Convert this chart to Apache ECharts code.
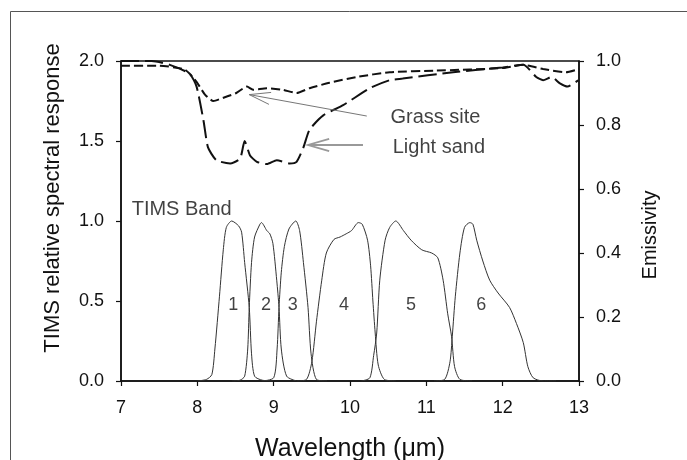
<!DOCTYPE html>
<html>
<head>
<meta charset="utf-8">
<script src="https://cdn.jsdelivr.net/npm/echarts@6/dist/echarts.min.js"></script>
<style>
  html, body { margin: 0; padding: 0; background: #fff; }
  #chart { width: 687px; height: 460px; }
</style>
</head>
<body>
<div id="chart"></div>
<script>
var FONT = 'Liberation Sans, Arial, Helvetica, sans-serif';
var INK = '#111';

// emissivity spectra (right axis)
var grassWave = [7.0, 7.5, 7.82, 7.9, 7.99, 8.1, 8.21, 8.34, 8.51, 8.65, 8.73, 8.91, 9.12, 9.3, 9.47, 9.73, 10.09, 10.52, 11.13, 12.0, 12.27, 12.53, 12.83, 13.0];
var grassEmis = [0.985, 0.985, 0.975, 0.96, 0.935, 0.895, 0.875, 0.885, 0.9, 0.92, 0.91, 0.915, 0.91, 0.9, 0.915, 0.932, 0.95, 0.965, 0.97, 0.978, 0.988, 0.975, 0.965, 0.975];

var sandWave = [7.0, 7.4, 7.64, 7.9, 7.99, 8.08, 8.14, 8.25, 8.43, 8.56, 8.62, 8.69, 8.78, 8.91, 9.04, 9.21, 9.3, 9.39, 9.47, 9.65, 9.91, 10.26, 10.52, 10.69, 11.35, 12.0, 12.27, 12.44, 12.53, 12.64, 12.75, 12.85, 12.99];
var sandEmis = [1.0, 1.0, 0.988, 0.96, 0.92, 0.815, 0.73, 0.69, 0.68, 0.695, 0.75, 0.705, 0.685, 0.678, 0.69, 0.68, 0.685, 0.73, 0.785, 0.83, 0.862, 0.915, 0.94, 0.945, 0.965, 0.98, 0.988, 0.95, 0.94, 0.95, 0.93, 0.92, 0.94];

// TIMS band responses (left axis)
var band1Wave = [8.0, 8.12, 8.19, 8.23, 8.29, 8.34, 8.38, 8.45, 8.54, 8.58, 8.62, 8.68, 8.71, 8.75, 8.85, 9.0];
var band1Resp = [0, 0.01, 0.04, 0.2, 0.53, 0.82, 0.96, 1.0, 0.97, 0.93, 0.74, 0.46, 0.17, 0.03, 0.005, 0];
var band2Wave = [8.45, 8.56, 8.62, 8.66, 8.68, 8.71, 8.75, 8.82, 8.84, 8.91, 8.95, 8.99, 9.04, 9.07, 9.1, 9.17, 9.3];
var band2Resp = [0, 0.005, 0.03, 0.2, 0.46, 0.74, 0.9, 0.98, 0.99, 0.94, 0.92, 0.86, 0.63, 0.46, 0.2, 0.03, 0];
var band3Wave = [8.85, 9.0, 9.045, 9.07, 9.1, 9.14, 9.2, 9.29, 9.34, 9.39, 9.45, 9.49, 9.56, 9.7];
var band3Resp = [0, 0.02, 0.2, 0.46, 0.68, 0.84, 0.95, 1.0, 0.94, 0.74, 0.46, 0.17, 0.01, 0];
var band4Wave = [9.3, 9.43, 9.5, 9.56, 9.63, 9.69, 9.79, 9.87, 9.95, 10.02, 10.11, 10.16, 10.23, 10.27, 10.3, 10.33, 10.37, 10.45, 10.6];
var band4Resp = [0, 0.01, 0.12, 0.37, 0.63, 0.8, 0.885, 0.9, 0.92, 0.94, 0.99, 0.98, 0.88, 0.72, 0.5, 0.3, 0.1, 0.01, 0];
var band5Wave = [10.15, 10.26, 10.31, 10.35, 10.39, 10.46, 10.52, 10.6, 10.7, 10.8, 10.94, 11.07, 11.15, 11.22, 11.28, 11.33, 11.37, 11.44, 11.6];
var band5Resp = [0, 0.02, 0.16, 0.3, 0.63, 0.88, 0.96, 1.0, 0.94, 0.88, 0.82, 0.8, 0.77, 0.63, 0.42, 0.28, 0.09, 0.01, 0];
var band6Wave = [11.1, 11.24, 11.31, 11.34, 11.38, 11.44, 11.5, 11.57, 11.61, 11.66, 11.74, 11.83, 11.94, 12.09, 12.18, 12.27, 12.33, 12.4, 12.53, 12.7];
var band6Resp = [0, 0.01, 0.12, 0.28, 0.53, 0.8, 0.96, 0.99, 0.98, 0.88, 0.75, 0.63, 0.55, 0.46, 0.36, 0.24, 0.09, 0.02, 0, 0];

// band numbers, placed inside each band
var bandNames = ['1', '2', '3', '4', '5', '6'];
var bandLabelWave = [8.47, 8.9, 9.25, 9.92, 10.8, 11.72];
var bandLabelResp = [0.475, 0.475, 0.475, 0.475, 0.475, 0.475];

// text notes (left axis units) and arrows
var noteTexts = ['TIMS Band', 'Grass site', 'Light sand'];
var noteWave = [7.14, 10.53, 10.56];
var noteResp = [1.07, 1.65, 1.46];
var grassArrow = [[10.22, 1.656], [8.68, 1.79]];
var sandArrow = [[10.17, 1.475], [9.45, 1.475]];

function pairs(xs, ys) {
    var res = [];
    for (var i = 0; i < xs.length; i++) res.push([xs[i], ys[i]]);
    return res;
}

var bandSets = [
    [band1Wave, band1Resp], [band2Wave, band2Resp], [band3Wave, band3Resp],
    [band4Wave, band4Resp], [band5Wave, band5Resp], [band6Wave, band6Resp]
];

var series = [];
bandSets.forEach(function (b, i) {
    series.push({
        name: 'Band ' + (i + 1),
        type: 'line',
        data: pairs(b[0], b[1]),
        smooth: 0.25,
        showSymbol: false,
        lineStyle: { color: '#333', width: 1 },
        z: 2
    });
});
series.push({
    name: 'Grass site',
    type: 'line',
    yAxisIndex: 1,
    data: pairs(grassWave, grassEmis),
    smooth: 0.2,
    showSymbol: false,
    lineStyle: { color: '#111', width: 2, type: [9, 4] },
    z: 3
});
series.push({
    name: 'Light sand',
    type: 'line',
    yAxisIndex: 1,
    data: pairs(sandWave, sandEmis),
    smooth: 0.2,
    showSymbol: false,
    lineStyle: { color: '#111', width: 2, type: [18, 6] },
    z: 3
});
var bandLabelData = [];
for (var i = 0; i < bandNames.length; i++) {
    bandLabelData.push({ name: bandNames[i], value: [bandLabelWave[i], bandLabelResp[i]] });
}
series.push({
    type: 'scatter',
    data: bandLabelData,
    symbolSize: 0,
    silent: true,
    label: {
        show: true, position: 'inside', formatter: '{b}',
        color: INK, fontSize: 18, fontFamily: FONT
    },
    z: 4
});
var noteData = [];
for (var j = 0; j < noteTexts.length; j++) {
    noteData.push({ name: noteTexts[j], value: [noteWave[j], noteResp[j]] });
}
series.push({
    type: 'scatter',
    data: noteData,
    symbolSize: 0,
    silent: true,
    label: {
        show: true, position: 'right', distance: 0, formatter: '{b}',
        color: INK, fontSize: 20, fontFamily: FONT
    },
    z: 4
});

var axisLineStyle = { color: '#111', width: 1.5 };

var option = {
    animation: false,
    backgroundColor: '#fff',
    grid: {
        left: 121, right: 108, top: 61, bottom: 79,
        outerBoundsMode: 'none',
        show: true, borderColor: '#111', borderWidth: 1.5
    },
    xAxis: {
        type: 'value', min: 7, max: 13, interval: 1,
        axisLine: { lineStyle: axisLineStyle },
        axisTick: { length: 5, lineStyle: { color: '#111', width: 1.2 } },
        axisLabel: { color: INK, fontSize: 18, fontFamily: FONT, margin: 18 },
        splitLine: { show: false },
        name: 'Wavelength (\u03bcm)',
        nameLocation: 'middle',
        nameGap: 56,
        nameTextStyle: { color: INK, fontSize: 25, fontFamily: FONT }
    },
    yAxis: [{
        type: 'value', min: 0, max: 2, interval: 0.5, position: 'left',
        axisLine: { show: true, lineStyle: axisLineStyle },
        axisTick: { show: true, length: 5, lineStyle: { color: '#111', width: 1.2 } },
        axisLabel: {
            color: INK, fontSize: 18, fontFamily: FONT, margin: 17,
            formatter: function (v) { return v.toFixed(1); }
        },
        splitLine: { show: false }
    }, {
        type: 'value', min: 0, max: 1, interval: 0.2, position: 'right',
        axisLine: { show: true, lineStyle: axisLineStyle },
        axisTick: { show: true, length: 5, lineStyle: { color: '#111', width: 1.2 } },
        axisLabel: {
            color: INK, fontSize: 18, fontFamily: FONT, margin: 17,
            formatter: function (v) { return v.toFixed(1); }
        },
        splitLine: { show: false }
    }],
    series: series
};

var chart = echarts.init(document.getElementById('chart'), null, { renderer: 'canvas' });
chart.setOption(option);

// open-headed arrow in pixel space, from data-coordinate ends
function arrowElements(ends, color, width) {
    var a = chart.convertToPixel({ xAxisIndex: 0, yAxisIndex: 0 }, ends[0]);
    var b = chart.convertToPixel({ xAxisIndex: 0, yAxisIndex: 0 }, ends[1]);
    var ang = Math.atan2(a[1] - b[1], a[0] - b[0]);
    var len = 22, spread = 16 * Math.PI / 180;
    var b1 = [b[0] + len * Math.cos(ang - spread), b[1] + len * Math.sin(ang - spread)];
    var b2 = [b[0] + len * Math.cos(ang + spread), b[1] + len * Math.sin(ang + spread)];
    var st = { stroke: color, lineWidth: width, fill: null };
    return [
        { type: 'polyline', shape: { points: [a, b] }, style: st, z: 10 },
        { type: 'polyline', shape: { points: [b1, b, b2] }, style: st, z: 10 }
    ];
}

var graphics = [{
    type: 'rect',
    shape: { x: 10.5, y: 11.5, width: 700, height: 480 },
    style: { fill: null, stroke: '#555', lineWidth: 1 },
    silent: true
}, {
    type: 'text',
    x: 53, y: 198, rotation: Math.PI / 2,
    style: {
        text: 'TIMS relative spectral response', font: '22px ' + FONT, fill: INK,
        textAlign: 'center', textVerticalAlign: 'middle', align: 'center', verticalAlign: 'middle'
    }
}, {
    type: 'text',
    x: 650, y: 235, rotation: Math.PI / 2,
    style: {
        text: 'Emissivity', font: '20px ' + FONT, fill: INK,
        textAlign: 'center', textVerticalAlign: 'middle', align: 'center', verticalAlign: 'middle'
    }
}];
graphics = graphics.concat(arrowElements(grassArrow, '#777', 1));
graphics = graphics.concat(arrowElements(sandArrow, '#999', 1.8));
chart.setOption({ graphic: graphics });
</script>
</body>
</html>
